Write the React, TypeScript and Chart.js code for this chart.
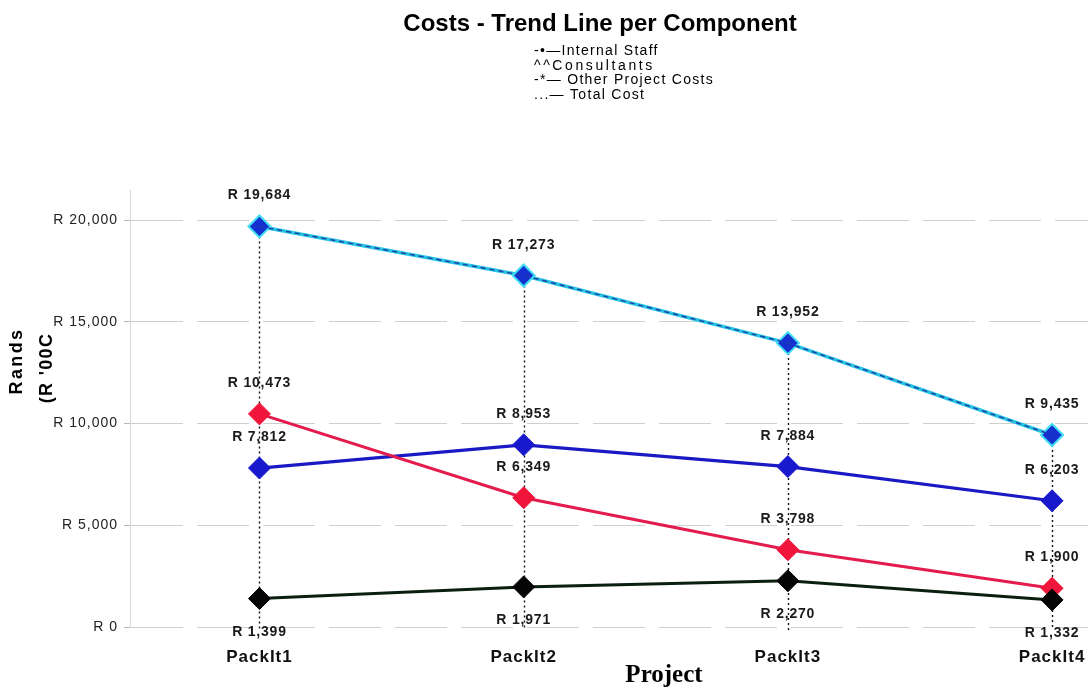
import { useEffect, useRef } from "react";
import { Chart, registerables } from "chart.js";

Chart.register(...registerables);

// Project cost components, in R '000
const projects = ["PackIt1", "PackIt2", "PackIt3", "PackIt4"];
const internalStaff = [7812, 8953, 7884, 6203];
const consultants = [10473, 6349, 3798, 1900];
const otherCosts = [1399, 1971, 2270, 1332];
const totalCost = [19684, 17273, 13952, 9435];

const yTickValues = [0, 5000, 10000, 15000, 20000];

const chartTitle = "Costs - Trend Line per Component";
const legendLines = [
  "-•—Internal Staff",
  "^^Consultants",
  "-*— Other Project Costs",
  "...— Total Cost",
];
const yTitleLines = ["Rands", "(R '00C"];
const xTitle = "Project";

const fmtRand = (v: number) => "R " + Math.round(v).toLocaleString("en-US");
const toPoints = (vals: number[]) => vals.map((y, i) => ({ x: i, y }));

const SANS = "Arial, 'Liberation Sans', sans-serif";
const SERIF = "'Times New Roman', 'Liberation Serif', serif";

// Dotted drop lines from the total down to the baseline
const dropLines = {
  id: "dropLines",
  beforeDatasetsDraw(chart: any) {
    const { ctx, scales } = chart;
    const xs = scales.x;
    const ys = scales.y;
    ctx.save();
    ctx.strokeStyle = "#111";
    ctx.lineWidth = 1.4;
    ctx.setLineDash([2, 3]);
    totalCost.forEach((v, i) => {
      const x = Math.round(xs.getPixelForValue(i)) + 0.5;
      ctx.beginPath();
      ctx.moveTo(x, ys.getPixelForValue(v));
      ctx.lineTo(x, ys.getPixelForValue(0) + 3);
      ctx.stroke();
    });
    ctx.restore();
  },
};

// Value labels next to each marker
const valueLabels = {
  id: "valueLabels",
  afterDatasetsDraw(chart: any) {
    const { ctx } = chart;
    ctx.save();
    ctx.font = `bold 14px ${SANS}`;
    ctx.fillStyle = "#1a1a1a";
    ctx.textAlign = "center";
    ctx.textBaseline = "alphabetic";
    (ctx as any).letterSpacing = "0.8px";
    chart.data.datasets.forEach((ds: any, di: number) => {
      if (!ds.labelSide) return;
      const meta = chart.getDatasetMeta(di);
      meta.data.forEach((pt: any, i: number) => {
        const val = ds.data[i].y;
        const y = ds.labelSide === "below" ? pt.y + 37 : pt.y - 27;
        ctx.fillText(fmtRand(val), pt.x, y);
      });
    });
    ctx.restore();
  },
};

// Title, legend text and axis titles
const decorations = {
  id: "decorations",
  beforeDraw(chart: any) {
    (chart.ctx as any).letterSpacing = "1px";
  },
  afterDraw(chart: any) {
    const { ctx } = chart;
    ctx.save();
    ctx.fillStyle = "#000";
    ctx.textBaseline = "alphabetic";

    ctx.font = `bold 24px ${SANS}`;
    ctx.textAlign = "center";
    (ctx as any).letterSpacing = "0px";
    ctx.fillText(chartTitle, 600, 31);

    ctx.font = `14px ${SANS}`;
    ctx.textAlign = "left";
    legendLines.forEach((line, i) => {
      (ctx as any).letterSpacing = i === 1 ? "2.6px" : "1.3px";
      ctx.fillText(line, 534, 55 + i * 14.7);
    });

    ctx.font = `bold 18px ${SANS}`;
    ctx.textAlign = "center";
    ctx.textBaseline = "middle";
    const yTitlePos = [
      [17, 361, "2.4px"],
      [47, 368, "1.3px"],
    ] as const;
    yTitleLines.forEach((t, i) => {
      ctx.save();
      (ctx as any).letterSpacing = yTitlePos[i][2];
      ctx.translate(yTitlePos[i][0], yTitlePos[i][1]);
      ctx.rotate(-Math.PI / 2);
      ctx.fillText(t, 0, 0);
      ctx.restore();
    });

    (ctx as any).letterSpacing = "0px";
    ctx.font = `bold 25px ${SERIF}`;
    ctx.textBaseline = "alphabetic";
    ctx.fillText(xTitle, 664, 682);
    ctx.restore();
  },
};

export default function App() {
  const canvasRef = useRef<HTMLCanvasElement | null>(null);

  useEffect(() => {
    const canvas = canvasRef.current;
    if (!canvas) return;

    const chart = new Chart(canvas, {
      type: "line",
      data: {
        datasets: [
          {
            label: "Total Cost (core)",
            data: toPoints(totalCost),
            borderColor: "#1b3fa8",
            borderWidth: 1.4,
            borderDash: [5, 4],
            pointRadius: 0,
            fill: false,
            order: 0,
          },
          {
            label: "Total Cost",
            data: toPoints(totalCost),
            borderColor: "#27c3e2",
            borderWidth: 3.5,
            pointStyle: "rectRot",
            pointRadius: 11,
            pointBackgroundColor: "#1430cf",
            pointBorderColor: "#3fdcf2",
            pointBorderWidth: 2,
            fill: false,
            order: 1,
            labelSide: "above",
          } as any,
          {
            label: "Other Project Costs",
            data: toPoints(otherCosts),
            borderColor: "#0b1f0e",
            borderWidth: 3,
            pointStyle: "rectRot",
            pointRadius: 11,
            pointBackgroundColor: "#050505",
            pointBorderColor: "#050505",
            pointBorderWidth: 1,
            fill: false,
            order: 2,
            labelSide: "below",
          } as any,
          {
            label: "Consultants",
            data: toPoints(consultants),
            borderColor: "#e41b4d",
            borderWidth: 3,
            pointStyle: "rectRot",
            pointRadius: 11,
            pointBackgroundColor: "#f0153a",
            pointBorderColor: "#f0153a",
            pointBorderWidth: 1,
            fill: false,
            order: 3,
            labelSide: "above",
          } as any,
          {
            label: "Internal Staff",
            data: toPoints(internalStaff),
            borderColor: "#1a1ac4",
            borderWidth: 3.2,
            pointStyle: "rectRot",
            pointRadius: 11,
            pointBackgroundColor: "#1818cc",
            pointBorderColor: "#1818cc",
            pointBorderWidth: 1,
            fill: false,
            order: 4,
            labelSide: "above",
          } as any,
        ],
      },
      options: {
        responsive: false,
        animation: false,
        layout: {
          autoPadding: false,
          padding: { top: 190, left: 0, right: 0, bottom: 0 },
        },
        plugins: {
          legend: { display: false },
          tooltip: { enabled: false },
          title: { display: false },
        },
        scales: {
          x: {
            type: "linear",
            min: -0.49,
            max: 3.136,
            afterBuildTicks: (s: any) => {
              s.ticks = projects.map((_, i) => ({ value: i }));
            },
            afterFit: (s: any) => {
              s.height = 65;
              s.paddingLeft = 0;
              s.paddingRight = 0;
            },
            ticks: {
              callback: (v: any) => projects[v] ?? "",
              font: { family: SANS, size: 17, weight: "bold" },
              color: "#111",
              padding: 20,
              maxRotation: 0,
              autoSkip: false,
            },
            grid: { display: false, drawTicks: false },
            border: { display: false },
          },
          y: {
            min: 0,
            max: 21475,
            afterBuildTicks: (s: any) => {
              s.ticks = yTickValues.map((v) => ({ value: v }));
            },
            afterFit: (s: any) => {
              s.width = 130;
            },
            ticks: {
              callback: (v: any) => fmtRand(Number(v)),
              font: { family: SANS, size: 14 },
              color: "#222",
              padding: 6,
            },
            grid: {
              color: "#cfcfcf",
              lineWidth: 1,
              tickLength: 6,
              tickColor: "#b8b8b8",
            },
            border: { display: true, color: "#d8d8d8", dash: [52, 14] },
          },
        },
      },
      plugins: [dropLines, valueLabels, decorations],
    });

    return () => chart.destroy();
  }, []);

  return (
    <div
      style={{
        position: "absolute",
        left: 0,
        top: 0,
        width: 1088,
        height: 692,
        background: "#fff",
      }}
    >
      <canvas
        ref={canvasRef}
        width={1088}
        height={692}
        style={{ display: "block", width: 1088, height: 692 }}
      />
    </div>
  );
}
